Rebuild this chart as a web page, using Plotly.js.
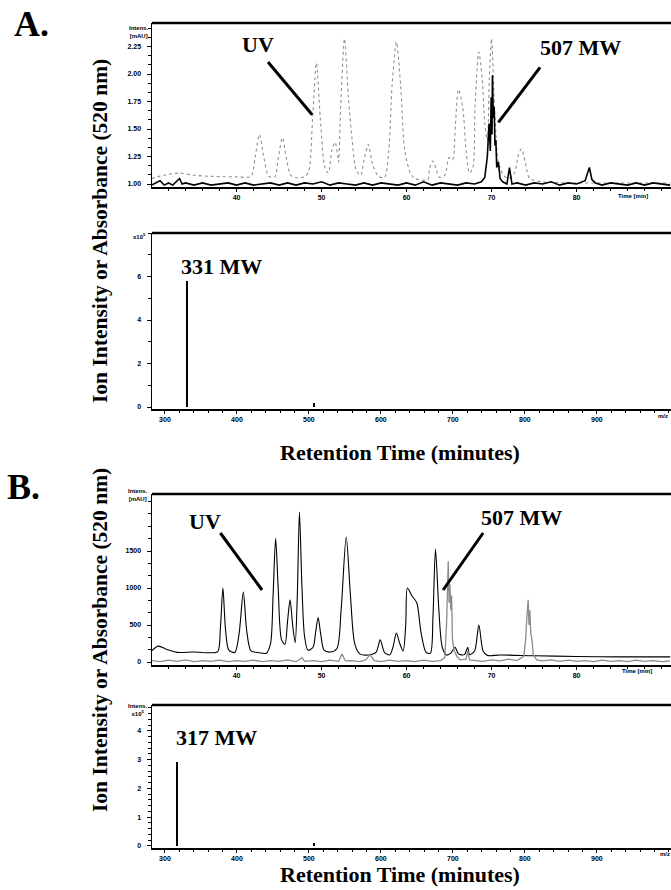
<!DOCTYPE html>
<html><head><meta charset="utf-8">
<script src="https://cdn.plot.ly/plotly-3.0.1.min.js"></script>
<style>html,body{margin:0;padding:0;background:#fff}#chart{width:671px;height:890px}</style>
</head><body><div id="chart"></div>
<script>
// ---------- Panel A, chromatogram (minutes) ----------
const aUvTime = [30.0,31.5,33.3,35.0,37.0,40.0,41.7,42.2,42.7,43.2,43.8,44.5,44.9,45.4,45.9,46.5,48.0,48.5,48.95,49.4,49.85,50.4,50.8,51.2,51.6,51.9,52.0,52.25,52.7,53.15,53.6,54.1,54.6,55.0,55.5,56.0,56.7,57.4,57.9,58.3,58.8,59.3,59.8,60.5,61.0,62.5,62.7,63.1,63.5,63.9,64.5,65.0,65.4,65.75,66.1,66.6,67.0,67.4,67.8,68.05,68.5,68.9,69.2,69.5,69.75,70.0,70.35,70.8,71.4,72.0,72.7,73.1,73.5,73.95,74.5,76.0,80.0,85.0,91.0];
const aUvAbs  = [1.05,1.08,1.10,1.08,1.07,1.065,1.07,1.25,1.45,1.25,1.07,1.065,1.23,1.42,1.22,1.07,1.065,1.12,1.60,2.10,1.60,1.15,1.10,1.30,1.38,1.25,1.20,1.70,2.32,1.80,1.40,1.12,1.08,1.22,1.36,1.18,1.07,1.06,1.30,1.90,2.29,1.90,1.30,1.09,1.05,1.04,1.14,1.21,1.13,1.06,1.08,1.24,1.22,1.55,1.86,1.70,1.30,1.10,1.15,1.70,2.20,1.95,1.55,1.40,2.00,2.32,1.70,1.20,1.08,1.05,1.10,1.25,1.32,1.20,1.05,1.02,1.01,1.01,1.01];
const aMsTime = [30,30.5,31,31.5,32,32.5,33,33.3,33.6,34,35,36,37,38,39,40,41,42,43,44,45,46,47,48,49,50,51,52,53,54,55,56,57,58,59,60,61,62,63,64,65,66,67,68,68.8,69.2,69.5,69.7,69.85,69.95,70.05,70.1,70.2,70.3,70.4,70.5,70.6,70.8,71.0,71.3,71.8,72.1,72.4,73,74,75,76,77,78,79,80,81,81.5,81.8,82.2,83,84,85,86,87,88,89,90,91];
const aMsInt  = [0.99,1.01,1.03,0.99,1.01,0.99,1.03,1.05,1.0,1.01,0.99,1.01,0.99,1.0,1.01,0.99,1.01,0.99,1.0,1.01,0.99,1.01,0.99,1.01,1.0,1.02,0.99,1.01,1.0,0.99,1.01,0.99,1.01,1.0,0.99,1.01,0.99,1.02,0.99,1.01,1.0,0.99,1.01,1.0,1.02,1.06,1.25,1.55,1.30,1.79,1.45,1.99,1.60,1.70,1.35,1.40,1.15,1.20,1.05,1.02,1.0,1.15,1.0,1.01,0.99,1.01,1.0,1.02,0.99,1.01,1.0,1.03,1.15,1.04,1.01,0.99,1.01,1.0,0.99,1.01,0.99,1.01,1.0,0.99];
// ---------- Panel A, mass spectrum ----------
const aSpecMz  = [331, 507];
const aSpecInt = [5.8, 0.2];

// ---------- Panel B, chromatogram ----------
const bUvTime = [30,30.8,31.8,33,35,37,37.8,38.1,38.4,38.7,39.1,39.8,40.3,40.8,41.2,41.7,42.5,43.5,44.0,44.3,44.6,44.9,45.3,45.7,46.0,46.3,46.6,46.9,47.15,47.4,47.7,48.0,48.4,49.0,49.3,49.6,49.9,50.3,51.0,51.8,52.3,52.9,53.4,53.9,54.5,55.5,56.4,56.9,57.4,58.0,58.4,58.8,59.2,59.6,59.9,60.1,60.6,61.2,61.7,62.3,62.8,63.1,63.4,63.8,64.2,64.7,65.2,65.7,66.1,66.8,67.2,67.4,68.0,68.5,69.0,69.5,71,75,80,85,91];
const bUvAbs  = [150,215,170,130,135,125,140,450,1000,450,160,130,380,945,420,150,130,120,250,900,1670,1000,300,240,550,840,500,260,900,2025,1000,350,160,200,400,600,380,160,135,180,700,1690,900,250,110,95,130,300,130,95,200,390,250,150,500,1000,900,800,400,130,120,600,1525,700,200,95,120,200,110,100,200,100,150,500,150,90,95,85,75,70,70];
const bMsTime = [30,31,32,33,34,35,36,37,38,39,40,41,42,43,44,45,46,47,47.7,48,49,50,51,52,52.4,52.8,53.5,54.5,55.2,55.7,56.2,57,58,59,60,61,62,63,64,64.5,64.7,64.8,64.9,65.0,65.1,65.2,65.3,65.4,65.6,65.9,66.3,67.0,67.2,67.4,68,69,70,71,72,73,73.8,74.0,74.15,74.3,74.4,74.5,74.6,74.75,74.9,75.3,76,77,78,79,80,81,82,83,84,85,86,87,88,89,90,91];
const bMsInt  = [20,5,25,10,30,5,20,10,25,5,20,10,25,5,20,10,30,5,60,10,20,5,25,10,110,15,20,5,30,100,20,5,25,10,20,5,25,10,20,60,500,1000,1360,800,1050,700,900,300,150,80,30,40,150,30,20,10,30,15,40,20,80,300,600,840,500,700,400,300,100,30,15,30,10,25,10,20,5,25,10,20,5,25,10,20,5,15];
// ---------- Panel B, mass spectrum ----------
const bSpecMz  = [317, 507];
const bSpecInt = [2.92, 0.12];

// ---------- tick labels ----------
const timeTicks = [30,40,50,60,70,80];
const mzTicks = [300,400,500,600,700,800,900];
const aTopTicks = [1.00,1.25,1.50,1.75,2.00,2.25];
const aTopTickText = ['1.00','1.25','1.50','1.75','2.00','2.25'];
const aBotTicks = [0,2,4,6];
const bTopTicks = [0,500,1000,1500];
const bBotTicks = [0,1,2,3,4];

const W = 671, H = 890;
const px = x => x / W;
const py = y => 1 - y / H;
const yd = (top, bot) => [py(bot), py(top)];
const XD = [px(152), 1];

const tickFont = {family: 'Liberation Sans, Arial, sans-serif', size: 7, color: '#000', weight: 'bold'};
const serifB = (s) => ({family: 'Liberation Serif, Times New Roman, serif', size: s, color: '#000', weight: 'bold'});

function xax(range, tv, minor, anchor) {
  return {domain: XD, range: range, anchor: anchor, showgrid: false, zeroline: false,
    showline: true, linecolor: '#000', linewidth: 1.5, ticks: 'outside', ticklen: 3, tickwidth: 1,
    tickcolor: '#000', tickvals: tv, tickfont: tickFont, ticklabelstandoff: 0,
    minor: {dtick: minor, ticks: 'outside', ticklen: 2, tickcolor: '#000', tickwidth: 1, showgrid: false}};
}
function yax(dom, range, tv, tt, minor, tick0, anchor) {
  const o = {domain: dom, range: range, anchor: anchor, showgrid: false, zeroline: false,
    showline: true, linecolor: '#000', linewidth: 1.5, ticks: 'outside', ticklen: 4, tickwidth: 1,
    tickcolor: '#000', tickvals: tv, tickfont: tickFont, ticklabelstandoff: 4,
    minor: {dtick: minor, tick0: tick0, ticks: 'outside', ticklen: 2.5, tickcolor: '#000', tickwidth: 1, showgrid: false}};
  if (tt) o.ticktext = tt;
  return o;
}

const traces = [
  {x: aUvTime, y: aUvAbs, xaxis: 'x', yaxis: 'y', mode: 'lines', line: {color: '#909090', width: 1.1, dash: 'dot', shape: 'spline', smoothing: 0.8}, hoverinfo: 'skip'},
  {x: aMsTime, y: aMsInt, xaxis: 'x', yaxis: 'y', mode: 'lines', line: {color: '#000', width: 1.6}, hoverinfo: 'skip'},
  {x: aSpecMz, y: aSpecInt, xaxis: 'x2', yaxis: 'y2', type: 'bar', width: 2.5, marker: {color: '#000', line: {width: 0}}, hoverinfo: 'skip'},
  {x: bUvTime, y: bUvAbs, xaxis: 'x3', yaxis: 'y3', mode: 'lines', line: {color: '#000', width: 1.1, shape: 'spline', smoothing: 0.8}, hoverinfo: 'skip'},
  {x: bMsTime, y: bMsInt, xaxis: 'x3', yaxis: 'y3', mode: 'lines', line: {color: '#8c8c8c', width: 1.3}, hoverinfo: 'skip'},
  {x: bSpecMz, y: bSpecInt, xaxis: 'x4', yaxis: 'y4', type: 'bar', width: 2.5, marker: {color: '#000', line: {width: 0}}, hoverinfo: 'skip'}
];

function topBorder(xr, yr) {
  return {type: 'line', xref: xr + ' domain', yref: yr + ' domain', x0: 0, x1: 1, y0: 1, y1: 1, line: {color: '#000', width: 2.5}};
}
function callout(xr, yr, x0, y0, x1, y1) {
  return {type: 'line', xref: xr, yref: yr, x0: x0, y0: y0, x1: x1, y1: y1, line: {color: '#000', width: 3}};
}

const shapes = [
  topBorder('x', 'y'), topBorder('x2', 'y2'), topBorder('x3', 'y3'), topBorder('x4', 'y4'),
  callout('x', 'y', 43.7, 2.11, 48.9, 1.63),
  callout('x', 'y', 75.7, 2.06, 70.8, 1.56),
  callout('x3', 'y3', 38.1, 1743, 43.0, 973),
  callout('x3', 'y3', 69.0, 1743, 64.3, 973)
];

function txt(text, xr, yr, x, y, font, extra) {
  return Object.assign({text: text, xref: xr, yref: yr, x: x, y: y, showarrow: false, font: font, xanchor: 'center', yanchor: 'middle'}, extra || {});
}
const small = {family: 'Liberation Sans, Arial, sans-serif', size: 6, color: '#000', weight: 'bold'};

const annotations = [
  txt('UV', 'x', 'y', 42.5, 2.27, serifB(22)),
  txt('507 MW', 'x', 'y', 80.5, 2.245, serifB(22)),
  txt('331 MW', 'x2', 'y2', 378, 6.48, serifB(22)),
  txt('UV', 'x3', 'y3', 36.3, 1892, serifB(22)),
  txt('507 MW', 'x3', 'y3', 73.5, 1959, serifB(22)),
  txt('317 MW', 'x4', 'y4', 371, 3.76, serifB(22)),
  txt('Retention Time (minutes)', 'paper', 'paper', px(400), py(452), serifB(22)),
  txt('Retention Time (minutes)', 'paper', 'paper', px(400), py(874), serifB(22)),
  txt('Ion Intensity or Absorbance (520 nm)', 'paper', 'paper', px(100), py(231), serifB(21.5), {textangle: -90}),
  txt('Ion Intensity or Absorbance (520 nm)', 'paper', 'paper', px(100), py(640), serifB(21.5), {textangle: -90}),
  txt('A.', 'paper', 'paper', px(31), py(24), serifB(36)),
  txt('B.', 'paper', 'paper', px(23), py(487), serifB(36)),
  txt('Time [min]', 'paper', 'paper', px(633), py(196), small),
  txt('Time [min]', 'paper', 'paper', px(637), py(671), small),
  txt('m/z', 'paper', 'paper', px(663), py(416), small),
  txt('m/z', 'paper', 'paper', px(665), py(854), small),
  txt('Intens.<br>[mAU]', 'paper', 'paper', px(139), py(32), small),
  txt('x10<sup>5</sup>', 'paper', 'paper', px(139), py(236), small),
  txt('Intens.<br>[mAU]', 'paper', 'paper', px(138), py(495), small),
  txt('Intens.<br>x10<sup>5</sup>', 'paper', 'paper', px(138), py(710), small)
];

const layout = {
  width: W, height: H, margin: {l: 0, r: 0, t: 0, b: 0},
  paper_bgcolor: '#fff', plot_bgcolor: '#fff', showlegend: false, bargap: 0,
  xaxis:  xax([30.06, 91.1], timeTicks, 2, 'y'),
  yaxis:  yax(yd(23, 187), [0.973, 2.464], aTopTicks, aTopTickText, 0.25/3, 1, 'x'),
  xaxis2: xax([282, 1003], mzTicks, 20, 'y2'),
  yaxis2: yax(yd(233, 409), [-0.092, 8.0], aBotTicks, null, 1, 0, 'x2'),
  xaxis3: xax([30.06, 91.1], timeTicks, 2, 'y3'),
  yaxis3: yax(yd(494, 665), [-40, 2270], bTopTicks, null, 500/3, 0, 'x3'),
  xaxis4: xax([282, 1003], mzTicks, 20, 'y4'),
  yaxis4: yax(yd(705, 848), [-0.07, 4.9], bBotTicks, null, 0.2, 0, 'x4'),
  shapes: shapes, annotations: annotations
};

Plotly.newPlot('chart', traces, layout, {staticPlot: true, displayModeBar: false});
</script></body></html>
